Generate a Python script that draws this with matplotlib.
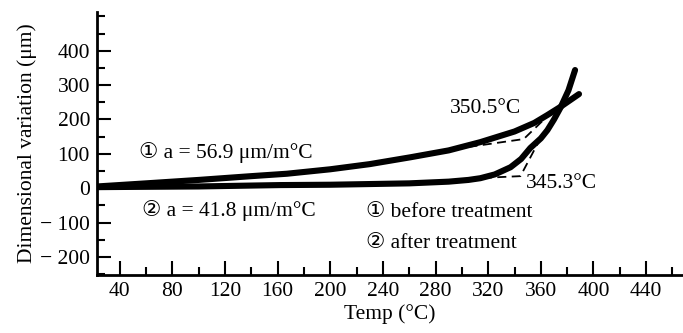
import matplotlib.pyplot as plt
from matplotlib.ticker import MultipleLocator

plt.rcParams["font.family"] = ["Liberation Serif", "DejaVu Sans"]

# before treatment (curve 1)
temp_before = [23, 60, 100, 140, 167, 200, 230, 261, 290, 314, 340, 355, 365, 375, 389]
dim_before = [5, 14, 24, 35, 42, 55, 70, 90, 110, 134, 165, 190, 213, 237, 274]
# after treatment (curve 2)
temp_after = [23, 60, 100, 162, 200, 260, 290, 305, 314, 325, 337, 345, 352, 360, 365, 370, 375, 381, 386]
dim_after = [3, 4, 5, 9, 10, 14, 19, 24, 29, 40, 61, 85, 117, 145, 169, 200, 235, 285, 344]

# tangent construction lines
tan1_x = [305, 347, 363.5]
tan1_y = [120, 143, 204]
tan2_x = [305, 344.5, 359]
tan2_y = [28, 35, 140]

xticks = [40, 80, 120, 160, 200, 240, 280, 320, 360, 400, 440]
yticks = [-200, -100, 0, 100, 200, 300, 400]
ytick_labels = ["− 200", "− 100", "0", "100", "200", "300", "400"]

FS = 15.5

fig = plt.figure(figsize=(6.83, 3.33), dpi=100)
ax = fig.add_axes([0.142, 0.174, 0.858, 0.79])

ax.plot(temp_before, dim_before, color="black", lw=4.4, solid_capstyle="round")
ax.plot(temp_after, dim_after, color="black", lw=4.4, solid_capstyle="round")
ax.plot(tan1_x, tan1_y, color="black", lw=1.3, ls=(0, (5, 3)))
ax.plot(tan2_x, tan2_y, color="black", lw=1.3, ls=(0, (5, 3)))

ax.set_xlim(22.8, 468)
ax.set_ylim(-253, 513)
ax.set_xticks(xticks)
ax.set_yticks(yticks, ytick_labels)
ax.xaxis.set_minor_locator(MultipleLocator(20))
ax.yaxis.set_minor_locator(MultipleLocator(50))
ax.tick_params(which="both", direction="in", width=1.5, labelsize=FS, pad=5)
ax.tick_params(which="major", length=10)
ax.tick_params(which="minor", length=6)
for side in ("top", "right"):
    ax.spines[side].set_visible(False)
for side in ("left", "bottom"):
    ax.spines[side].set_linewidth(2)

ax.set_xlabel("Temp (°C)", fontsize=FS, labelpad=2)
ax.set_ylabel("Dimensional variation (μm)", fontsize=FS, labelpad=2)

ax.text(291, 233, "350.5°C", fontsize=FS, va="center")
ax.text(349, 15, "345.3°C", fontsize=FS, va="center")
ax.text(55, 105, "① a = 56.9 μm/m°C", fontsize=FS, va="center")
ax.text(57, -64, "② a = 41.8 μm/m°C", fontsize=FS, va="center")
ax.text(227, -70, "① before treatment", fontsize=FS, va="center")
ax.text(227, -160, "② after treatment", fontsize=FS, va="center")

fig.savefig("out.png", dpi=100, facecolor="white")
